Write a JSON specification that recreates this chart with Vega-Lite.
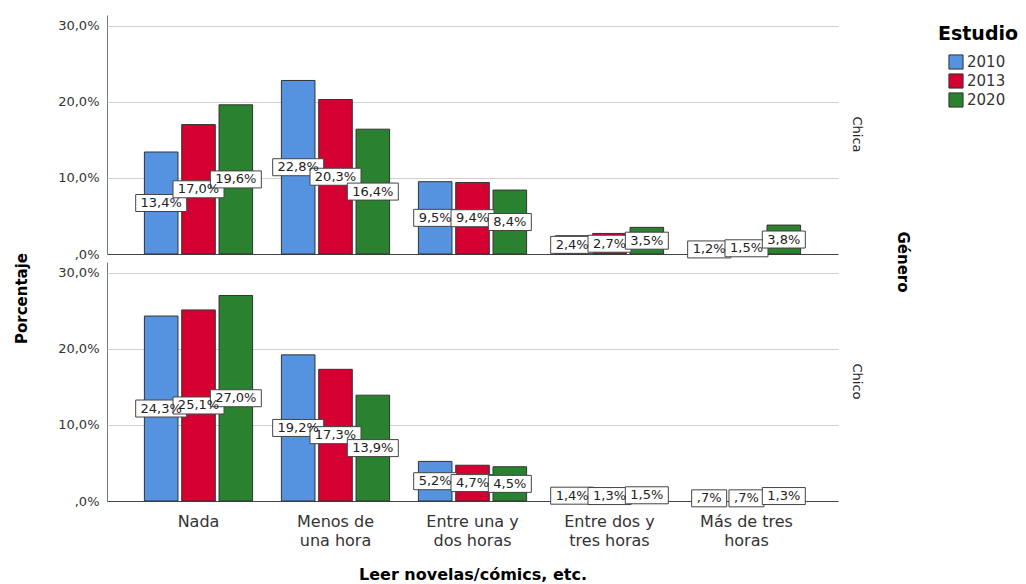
{
  "$schema": "https://vega.github.io/schema/vega-lite/v6.json",
  "padding": {"left": 14, "top": 15, "right": 2, "bottom": 2},
  "background": "white",
  "title": {"text": "Porcentaje", "orient": "left", "anchor": "middle", "font": "DejaVu Sans", "fontSize": 15, "fontWeight": "bold", "color": "#000", "offset": 28},
  "data": {"values": [
    {"genero": "Chica", "actividad": "Nada", "estudio": "2010", "pct": 13.4},
    {"genero": "Chica", "actividad": "Nada", "estudio": "2013", "pct": 17.0},
    {"genero": "Chica", "actividad": "Nada", "estudio": "2020", "pct": 19.6},
    {"genero": "Chica", "actividad": "Menos de una hora", "estudio": "2010", "pct": 22.8},
    {"genero": "Chica", "actividad": "Menos de una hora", "estudio": "2013", "pct": 20.3},
    {"genero": "Chica", "actividad": "Menos de una hora", "estudio": "2020", "pct": 16.4},
    {"genero": "Chica", "actividad": "Entre una y dos horas", "estudio": "2010", "pct": 9.5},
    {"genero": "Chica", "actividad": "Entre una y dos horas", "estudio": "2013", "pct": 9.4},
    {"genero": "Chica", "actividad": "Entre una y dos horas", "estudio": "2020", "pct": 8.4},
    {"genero": "Chica", "actividad": "Entre dos y tres horas", "estudio": "2010", "pct": 2.4},
    {"genero": "Chica", "actividad": "Entre dos y tres horas", "estudio": "2013", "pct": 2.7},
    {"genero": "Chica", "actividad": "Entre dos y tres horas", "estudio": "2020", "pct": 3.5},
    {"genero": "Chica", "actividad": "Más de tres horas", "estudio": "2010", "pct": 1.2},
    {"genero": "Chica", "actividad": "Más de tres horas", "estudio": "2013", "pct": 1.5},
    {"genero": "Chica", "actividad": "Más de tres horas", "estudio": "2020", "pct": 3.8},
    {"genero": "Chico", "actividad": "Nada", "estudio": "2010", "pct": 24.3},
    {"genero": "Chico", "actividad": "Nada", "estudio": "2013", "pct": 25.1},
    {"genero": "Chico", "actividad": "Nada", "estudio": "2020", "pct": 27.0},
    {"genero": "Chico", "actividad": "Menos de una hora", "estudio": "2010", "pct": 19.2},
    {"genero": "Chico", "actividad": "Menos de una hora", "estudio": "2013", "pct": 17.3},
    {"genero": "Chico", "actividad": "Menos de una hora", "estudio": "2020", "pct": 13.9},
    {"genero": "Chico", "actividad": "Entre una y dos horas", "estudio": "2010", "pct": 5.2},
    {"genero": "Chico", "actividad": "Entre una y dos horas", "estudio": "2013", "pct": 4.7},
    {"genero": "Chico", "actividad": "Entre una y dos horas", "estudio": "2020", "pct": 4.5},
    {"genero": "Chico", "actividad": "Entre dos y tres horas", "estudio": "2010", "pct": 1.4},
    {"genero": "Chico", "actividad": "Entre dos y tres horas", "estudio": "2013", "pct": 1.3},
    {"genero": "Chico", "actividad": "Entre dos y tres horas", "estudio": "2020", "pct": 1.5},
    {"genero": "Chico", "actividad": "Más de tres horas", "estudio": "2010", "pct": 0.7},
    {"genero": "Chico", "actividad": "Más de tres horas", "estudio": "2013", "pct": 0.7},
    {"genero": "Chico", "actividad": "Más de tres horas", "estudio": "2020", "pct": 1.3}
  ]},
  "transform": [
    {"calculate": "(datum.pct < 1 ? '' : floor(datum.pct) + '') + ',' + (round(datum.pct * 10) % 10) + '%'", "as": "label"},
    {"calculate": "datum.pct / 2", "as": "labely"},
    {"calculate": "8 * length(datum.label) + 11", "as": "boxw"},
    {"calculate": "'M-1,-' + (17 / datum.boxw) + 'H1V' + (17 / datum.boxw) + 'H-1Z'", "as": "boxshape"},
    {"calculate": "datum.boxw * datum.boxw", "as": "boxsize"}
  ],
  "facet": {
    "row": {
      "field": "genero",
      "type": "nominal",
      "title": "Género",
      "header": {
        "labelOrient": "right",
        "titleOrient": "right",
        "labelAngle": 90,
        "titleAngle": 90,
        "labelFont": "DejaVu Sans",
        "labelFontSize": 13,
        "labelColor": "#222",
        "labelPadding": 12,
        "titleFont": "DejaVu Sans",
        "titleFontSize": 15,
        "titleFontWeight": "bold",
        "titleColor": "#000",
        "titlePadding": 22
      }
    }
  },
  "spacing": {"row": 0},
  "spec": {
    "width": 731,
    "height": 239,
    "encoding": {
      "x": {
        "field": "actividad",
        "type": "nominal",
        "sort": ["Nada", "Menos de una hora", "Entre una y dos horas", "Entre dos y tres horas", "Más de tres horas"],
        "scale": {"paddingInner": 0.21, "paddingOuter": 0.273},
        "title": "Leer novelas/cómics, etc.",
        "axis": {
          "labelAngle": 0,
          "ticks": false,
          "domain": false,
          "grid": false,
          "labelFont": "DejaVu Sans",
          "labelFontSize": 16,
          "labelColor": "#333",
          "labelPadding": 4,
          "labelLineHeight": 19,
          "labelExpr": "datum.value == 'Menos de una hora' ? ['Menos de', 'una hora'] : datum.value == 'Entre una y dos horas' ? ['Entre una y', 'dos horas'] : datum.value == 'Entre dos y tres horas' ? ['Entre dos y', 'tres horas'] : datum.value == 'Más de tres horas' ? ['Más de tres', 'horas'] : datum.value",
          "titleFont": "DejaVu Sans",
          "titleFontSize": 16,
          "titleFontWeight": "bold",
          "titleColor": "#000",
          "titlePadding": 18
        }
      },
      "xOffset": {
        "field": "estudio",
        "type": "nominal",
        "scale": {"paddingInner": 0.1, "paddingOuter": 0}
      }
    },
    "layer": [
      {
        "mark": {"type": "bar", "stroke": "#333", "strokeWidth": 1},
        "encoding": {
          "y": {
            "field": "pct",
            "type": "quantitative",
            "scale": {"domain": [0, 31.4], "nice": false},
            "title": null,
            "axis": {
              "values": [0, 10, 20, 30],
              "labelExpr": "datum.value == 0 ? ',0%' : replace(format(datum.value, '.1f'), '.', ',') + '%'",
              "ticks": false,
              "grid": true,
              "labelPadding": 8,
              "labelFont": "DejaVu Sans",
              "labelFontSize": 13,
              "labelColor": "#333",
              "domainColor": "#777",
              "gridColor": {"condition": {"test": "datum.value === 0", "value": "#444"}, "value": "#d0d0d0"}
            }
          },
          "color": {
            "field": "estudio",
            "type": "nominal",
            "title": "Estudio",
            "scale": {"domain": ["2010", "2013", "2020"], "range": ["#5593e0", "#d50032", "#2a8130"]},
            "legend": {
              "orient": "right",
              "offset": 18,
              "padding": 10,
              "titleFont": "DejaVu Sans",
              "titleFontSize": 19,
              "titleFontWeight": "bold",
              "titleColor": "#000",
              "titlePadding": 10,
              "labelFont": "DejaVu Sans",
              "labelFontSize": 15,
              "labelColor": "#333",
              "labelOffset": 3,
              "symbolOffset": 10,
              "symbolType": "square",
              "symbolSize": 200,
              "symbolStrokeColor": "#333",
              "symbolStrokeWidth": 1,
              "symbolOpacity": 1,
              "rowPadding": -1
            }
          }
        }
      },
      {
        "mark": {"type": "point", "filled": true, "fill": "white", "stroke": "#444", "strokeWidth": 1, "opacity": 1},
        "encoding": {
          "y": {"field": "labely", "type": "quantitative"},
          "shape": {"field": "boxshape", "type": "nominal", "scale": null, "legend": null},
          "size": {"field": "boxsize", "type": "quantitative", "scale": null, "legend": null}
        }
      },
      {
        "mark": {"type": "text", "font": "DejaVu Sans", "fontSize": 13, "color": "#222", "baseline": "middle", "align": "center"},
        "encoding": {
          "y": {"field": "labely", "type": "quantitative"},
          "text": {"field": "label"}
        }
      }
    ]
  },
  "config": {
    "view": {"stroke": null}
  }
}
